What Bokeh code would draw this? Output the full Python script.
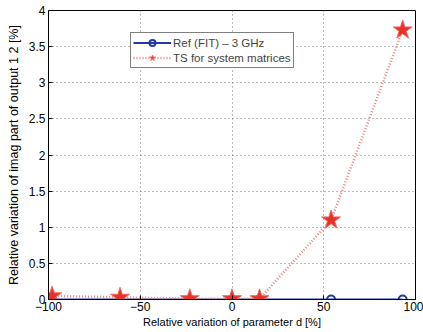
from bokeh.plotting import figure
from bokeh.models import Legend, LegendItem, FixedTicker, Range1d
from bokeh.embed import file_html
from bokeh.resources import INLINE

# data
param_d = [-98, -61, -23, 0, 15, 54, 93]
ref_fit = [0, 0, 0, 0, 0, 0, 0]
ts_sys = [0.05, 0.03, 0.01, 0.01, 0.01, 1.1, 3.73]
x_ticks = [-100, -50, 0, 50, 100]
y_ticks = [0, 0.5, 1, 1.5, 2, 2.5, 3, 3.5, 4]

FONT = "Liberation Sans"
BLUE = "#2338a0"
RED = "#e8312a"

p = figure(width=423, height=332, output_backend="svg", toolbar_location=None,
           x_range=Range1d(-100, 100), y_range=Range1d(0, 4),
           min_border_left=48, min_border_right=8, min_border_top=10, min_border_bottom=33)
p.background_fill_color = "white"
p.border_fill_color = "white"
p.outline_line_color = "black"
p.outline_line_width = 1

for ax in (p.xaxis, p.yaxis):
    ax.major_tick_in = 4
    ax.major_tick_out = 0
    ax.minor_tick_in = 0
    ax.minor_tick_out = 0
    ax.axis_line_color = "black"
    ax.major_label_text_font = FONT
    ax.major_label_text_font_size = "12px"
    ax.major_label_text_color = "black"
    ax.axis_label_text_font = FONT
    ax.axis_label_text_font_style = "normal"
    ax.axis_label_text_color = "black"

p.xaxis.axis_label_text_font_size = "11px"
p.yaxis.axis_label_text_font_size = "12.5px"
p.xaxis.ticker = FixedTicker(ticks=x_ticks)
p.yaxis.ticker = FixedTicker(ticks=y_ticks)
p.xaxis.major_label_overrides = {t: str(t).replace("-", "\u2212") for t in x_ticks}
p.yaxis.major_label_overrides = {t: ("%g" % t) for t in y_ticks}
p.xaxis.major_label_standoff = 2
p.yaxis.major_label_standoff = 3
p.xaxis.axis_label = "Relative variation of parameter d [%]"
p.yaxis.axis_label = "Relative variation of imag part of output 1 2 [%]"
p.xaxis.axis_label_standoff = 2
p.yaxis.axis_label_standoff = 5

p.xgrid.grid_line_color = "#777777"
p.ygrid.grid_line_color = "#777777"
p.xgrid.grid_line_dash = "1 3"
p.ygrid.grid_line_dash = "1 3"

r_line = p.line(param_d, ref_fit, line_color=BLUE, line_width=2)
r_circ = p.scatter(param_d, ref_fit, marker="circle", size=8, fill_color=None,
                   line_color=BLUE, line_width=2)
t_line = p.line(param_d, ts_sys, line_color="#f08080", line_width=2.5, line_dash="1 2")
t_star = p.scatter(param_d, ts_sys, marker="star", size=20, fill_color=RED,
                   line_color="#f07060", line_width=1)

legend = Legend(items=[
    LegendItem(label="Ref (FIT) \u2013 3 GHz", renderers=[r_line, r_circ]),
    LegendItem(label="TS for system matrices", renderers=[t_line, t_star]),
], location=(82, 231))
legend.border_line_color = "black"
legend.border_line_width = 1
legend.label_text_font = FONT
legend.label_text_font_size = "11.5px"
legend.glyph_width = 38
legend.glyph_height = 15
legend.spacing = 0
legend.padding = 2
legend.margin = 0
legend.label_standoff = 2
legend.label_height = 15
p.add_layout(legend, "center")

open("out.html", "w").write(file_html(p, INLINE))
